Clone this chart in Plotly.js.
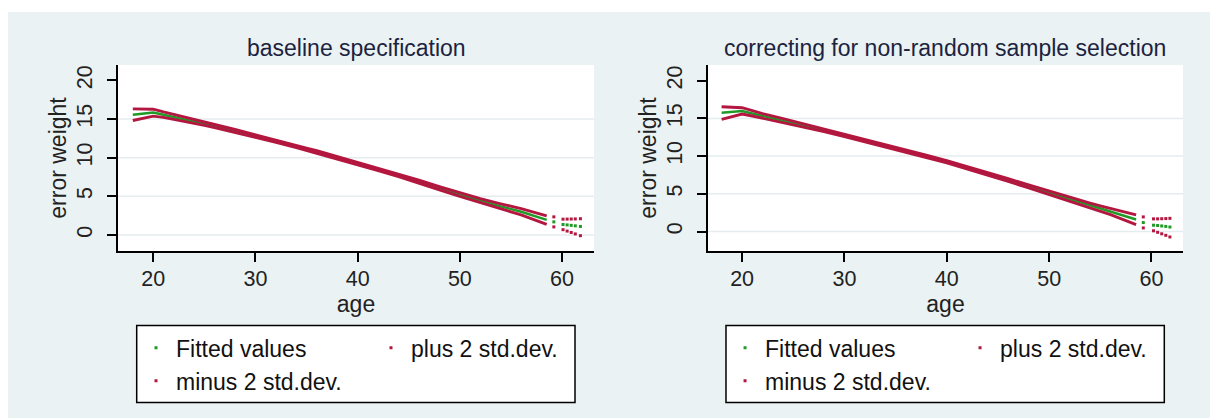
<!DOCTYPE html>
<html><head><meta charset="utf-8">
<script src="https://cdn.plot.ly/plotly-3.0.1.min.js"></script>
<style>
html,body{margin:0;padding:0;background:#ffffff;}
#chart{position:absolute;left:8px;top:12px;width:1202px;height:406px;}
</style>
</head><body>
<div id="chart"></div>
<script>
// ---- data ----
const panelTitles = ['baseline specification', 'correcting for non-random sample selection'];
const xTitle = 'age';
const yTitle = 'error weight';
const seriesNames = ['Fitted values', 'plus 2 std.dev.', 'minus 2 std.dev.'];
const xTicks = [20, 30, 40, 50, 60];
const yTicks = [0, 5, 10, 15, 20];
const gridVals = [0, 5, 10, 15];

const ages = [18,19,20,21,22,24,25,26,28,30,32,34,35,36,38,40,42,44,45,46,48,50,52,54,55,56,58.5];

// baseline specification
const baseFitted = [15.55,15.72,15.85,15.57,15.28,14.70,14.40,14.10,13.47,12.82,12.15,11.45,11.09,10.75,10.00,9.27,8.50,7.72,7.32,6.90,6.05,5.20,4.42,3.70,3.35,3.00,1.95];
const basePlus   = [16.32,16.31,16.28,15.92,15.58,14.94,14.62,14.30,13.65,12.99,12.31,11.60,11.24,10.90,10.15,9.42,8.66,7.89,7.49,7.08,6.25,5.42,4.69,4.03,3.71,3.40,2.48];
const baseMinus  = [14.81,15.10,15.38,15.22,14.98,14.46,14.18,13.90,13.29,12.65,11.99,11.30,10.94,10.60,9.85,9.12,8.34,7.55,7.15,6.72,5.85,4.98,4.15,3.37,2.99,2.60,1.38];
const baseTailAges   = [59.2,60.1,60.5,60.9,61.3,61.8];
const baseTailFitted = [1.69,1.35,1.30,1.24,1.18,1.10];
const baseTailPlus   = [2.34,2.04,2.05,2.06,2.07,2.10];
const baseTailMinus  = [1.04,0.68,0.50,0.32,0.13,-0.10];

// correcting for non-random sample selection
const corrFitted = [15.75,15.88,15.98,15.66,15.33,14.72,14.40,14.08,13.42,12.75,12.07,11.37,11.02,10.67,9.97,9.25,8.47,7.67,7.25,6.83,5.98,5.13,4.30,3.45,3.05,2.65,1.59];
const corrPlus   = [16.55,16.50,16.42,16.02,15.63,14.96,14.62,14.28,13.60,12.92,12.23,11.52,11.17,10.82,10.12,9.40,8.63,7.84,7.42,7.01,6.18,5.35,4.57,3.78,3.41,3.05,2.21];
const corrMinus  = [14.87,15.25,15.58,15.32,15.03,14.48,14.18,13.88,13.24,12.58,11.91,11.22,10.87,10.52,9.82,9.10,8.31,7.50,7.08,6.65,5.78,4.91,4.03,3.12,2.69,2.25,0.93];
const corrTailAges   = [59.2,60.2,60.6,61.0,61.4,61.8];
const corrTailFitted = [1.19,0.84,0.80,0.74,0.68,0.60];
const corrTailPlus   = [1.94,1.68,1.68,1.70,1.72,1.75];
const corrTailMinus  = [0.48,0.10,-0.10,-0.30,-0.50,-0.72];

// ---- styling ----
const GREEN = '#1f9a26';
const RED = '#b3163f';
const FONT = 'Liberation Sans, Arial, Helvetica, sans-serif';
const colors = [GREEN, RED, RED];
const widths = [2.5, 2.9, 2.9];
const groups = ['a', 'b', 'a'];

function panelTraces(p, main, tailX, tail) {
  const xa = p === 0 ? 'x' : 'x2';
  const ya = p === 0 ? 'y' : 'y2';
  const leg = p === 0 ? 'legend' : 'legend2';
  const out = [];
  main.forEach((ys, i) => {
    out.push({type: 'scatter', mode: 'lines', x: ages, y: ys, xaxis: xa, yaxis: ya,
      name: seriesNames[i], legend: leg, legendgroup: p + groups[i], showlegend: false,
      line: {color: colors[i], width: widths[i]}, hoverinfo: 'skip'});
  });
  tail.forEach((ys, i) => {
    out.push({type: 'scatter', mode: 'markers', x: tailX, y: ys, xaxis: xa, yaxis: ya,
      name: seriesNames[i], legend: leg, legendgroup: p + groups[i], showlegend: true,
      marker: {color: colors[i], size: 3, symbol: 'square'}, hoverinfo: 'skip'});
  });
  return out;
}

const data = [].concat(
  panelTraces(0, [baseFitted, basePlus, baseMinus], baseTailAges, [baseTailFitted, baseTailPlus, baseTailMinus]),
  panelTraces(1, [corrFitted, corrPlus, corrMinus], corrTailAges, [corrTailFitted, corrTailPlus, corrTailMinus])
);

function xAxis(domain, range) {
  return {domain: domain, range: range, tickvals: xTicks, ticks: 'outside', ticklen: 9, tickwidth: 2,
    tickcolor: '#000', showline: true, linecolor: '#000', linewidth: 2, showgrid: false, zeroline: false,
    tickfont: {family: FONT, size: 21.5, color: '#222'}, ticklabelstandoff: -2,
    title: {text: xTitle, font: {family: FONT, size: 23, color: '#222'}, standoff: 0}, fixedrange: true};
}
function yAxis(anchor, range) {
  return {anchor: anchor, range: range, tickvals: yTicks, ticks: 'outside', ticklen: 9, tickwidth: 2,
    tickcolor: '#000', showline: true, linecolor: '#000', linewidth: 2, showgrid: false, zeroline: false,
    tickangle: -90, tickfont: {family: FONT, size: 21.5, color: '#222'}, ticklabelstandoff: 6,
    title: {text: yTitle, font: {family: FONT, size: 23, color: '#222'}, standoff: 0}, fixedrange: true};
}
function legendCfg(x) {
  return {orientation: 'h', traceorder: 'grouped', x: x, xanchor: 'left', y: -0.405, yanchor: 'top',
    bgcolor: 'rgba(0,0,0,0)', borderwidth: 0, entrywidth: 190, entrywidthmode: 'pixels',
    font: {family: FONT, size: 23, color: '#111'}};
}

const shapes = [];
['', '2'].forEach((s) => {
  gridVals.forEach((v) => {
    shapes.push({type: 'line', xref: 'x' + s + ' domain', x0: 0, x1: 1, yref: 'y' + s, y0: v, y1: v,
      line: {color: '#e4ecee', width: 1.5}, layer: 'below'});
  });
});
// legend frames
shapes.push({type: 'rect', xref: 'paper', yref: 'paper', x0: 0.01756, x1: 0.42911, y0: -0.4001, y1: -0.8147,
  line: {color: '#000', width: 1.5}, fillcolor: '#ffffff', layer: 'above'});
shapes.push({type: 'rect', xref: 'paper', yref: 'paper', x0: 0.57089, x1: 0.98244, y0: -0.4001, y1: -0.8147,
  line: {color: '#000', width: 1.5}, fillcolor: '#ffffff', layer: 'above'});

const annotations = panelTitles.map((t, i) => ({
  text: t, xref: (i === 0 ? 'x' : 'x2') + ' domain', x: 0.5, xanchor: 'center',
  yref: (i === 0 ? 'y' : 'y2') + ' domain', y: 1, yanchor: 'bottom', yshift: 2, showarrow: false,
  font: {family: FONT, size: 23, color: '#1c2340'}
}));

const layout = {
  width: 1202, height: 406,
  margin: {l: 110, r: 27, t: 53, b: 167, pad: 0},
  paper_bgcolor: '#eaf2f3', plot_bgcolor: '#ffffff',
  font: {family: FONT, color: '#222'},
  xaxis: xAxis([0, 0.44695], [16.55, 63.13]),
  yaxis: yAxis('x', [-2.08, 22.0]),
  xaxis2: xAxis([0.55399, 1], [16.67, 63.08]),
  yaxis2: yAxis('x2', [-2.58, 22.08]),
  legend: legendCfg(0.0169),
  legend2: legendCfg(0.5700),
  shapes: shapes,
  annotations: annotations,
  showlegend: true
};

Plotly.newPlot('chart', data, layout, {displayModeBar: false, staticPlot: true});
</script>
</body></html>
